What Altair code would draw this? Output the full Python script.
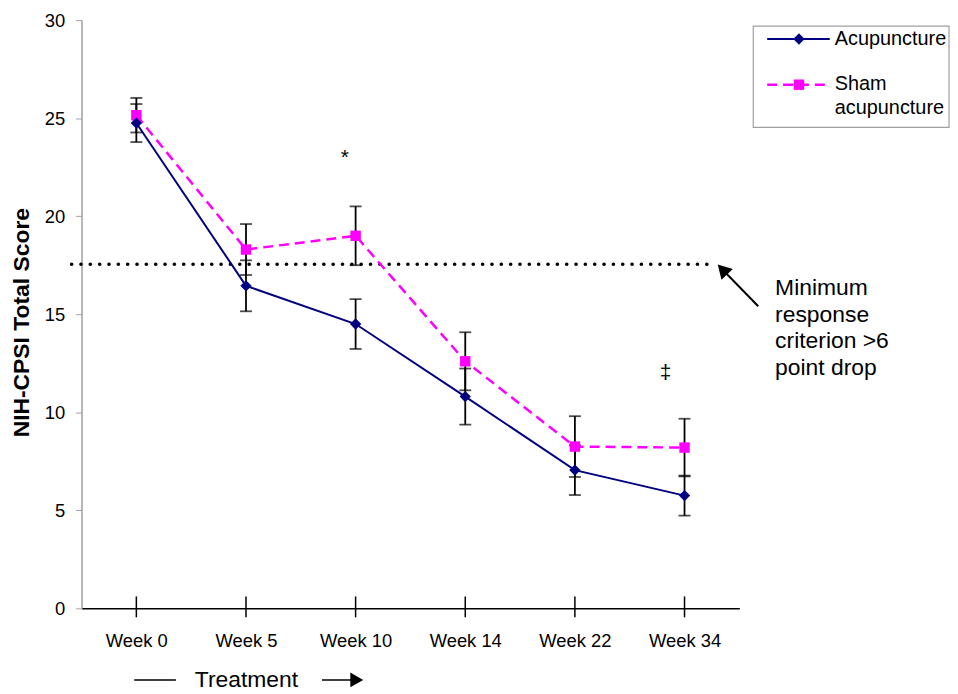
import altair as alt
import pandas as pd

# ---------------- data ----------------
weeks = ["Week 0", "Week 5", "Week 10", "Week 14", "Week 22", "Week 34"]
acup_mean = [24.75, 16.45, 14.5, 10.8, 7.05, 5.75]
acup_err = [0.97, 1.3, 1.27, 1.43, 1.27, 1.02]
sham_mean = [25.15, 18.3, 19.0, 12.6, 8.25, 8.2]
sham_err = [0.88, 1.3, 1.5, 1.48, 1.55, 1.47]
series_names = ["Acupuncture", "Sham acupuncture"]
criterion_value = [17.55]
sig_symbols = ["*", "\u2021"]
sig_weeks = ["Week 10", "Week 34"]
sig_values = [22.95, 12.0]
y_ticks = [0, 5, 10, 15, 20, 25, 30]
annotation_lines = ["Minimum", "response", "criterion >6", "point drop"]
x_title = "Treatment"
y_title = "NIH-CPSI Total Score"

FONT = "Liberation Sans"
NAVY = "#000080"
MAGENTA = "#FF00FF"

rows = []
for name, means, errs in [(series_names[0], acup_mean, acup_err),
                          (series_names[1], sham_mean, sham_err)]:
    for w, m, e in zip(weeks, means, errs):
        rows.append({"week": w, "series": name, "mean": m,
                     "lo": m - e, "hi": m + e})
df = pd.DataFrame(rows)
weeks_df = pd.DataFrame({"week": weeks})
crit_df = pd.DataFrame({"crit": criterion_value})
sig_df = pd.DataFrame({"sym": sig_symbols, "week": sig_weeks, "val": sig_values})
one = pd.DataFrame({"k": [0]})

yscale = alt.Scale(domain=[0, 30], nice=False, zero=True)
xscale = alt.Scale(type="point", padding=0.5)

X = alt.X("week:N", sort=weeks, scale=xscale,
          axis=alt.Axis(title=None, ticks=False, labelFontSize=18.5, labelPadding=23,
                        labelColor="black", domainColor="black", domainWidth=1.5,
                        labelAngle=0, grid=False))

base = alt.Chart(df)

# criterion dotted line
crit = alt.Chart(crit_df).mark_rule(
    color="black", strokeWidth=3.6, strokeCap="round", strokeDash=[0.1, 9.3]
).encode(
    y=alt.Y("crit:Q", scale=yscale,
            axis=alt.Axis(values=y_ticks, title=y_title, titleFontSize=23,
                          titleFontWeight="bold", titleColor="black",
                          titleAngle=270, titleX=-60, titleY=304,
                          titleBaseline="middle", titleAlign="center",
                          labelFontSize=18.5, labelColor="black", labelPadding=11,
                          tickSize=6, tickColor="#a0a0a0", domainColor="#a0a0a0",
                          domainWidth=1.5, grid=False)),
    x=alt.value(-10), x2=alt.value(634),
)

# error bars
err = base.mark_rule(color="black", strokeWidth=1.8).encode(
    x=X, y=alt.Y("lo:Q", scale=yscale), y2="hi:Q")
cap_lo = base.mark_tick(color="black", thickness=1.8, size=12).encode(
    x=X, y=alt.Y("lo:Q", scale=yscale))
cap_hi = base.mark_tick(color="black", thickness=1.8, size=12).encode(
    x=X, y=alt.Y("hi:Q", scale=yscale))

# lines and markers
line_a = base.transform_filter(alt.datum.series == series_names[0]).mark_line(
    color=NAVY, strokeWidth=2).encode(x=X, y=alt.Y("mean:Q", scale=yscale))
line_s = base.transform_filter(alt.datum.series == series_names[1]).mark_line(
    color=MAGENTA, strokeWidth=2.5, strokeDash=[10, 6]).encode(
    x=X, y=alt.Y("mean:Q", scale=yscale))
pt_a = base.transform_filter(alt.datum.series == series_names[0]).mark_point(
    shape="diamond", filled=True, color=NAVY, size=130, opacity=1).encode(
    x=X, y=alt.Y("mean:Q", scale=yscale))
pt_s = base.transform_filter(alt.datum.series == series_names[1]).mark_point(
    shape="square", filled=True, color=MAGENTA, size=110, opacity=1).encode(
    x=X, y=alt.Y("mean:Q", scale=yscale))

# x tick marks crossing the axis
xticks = alt.Chart(weeks_df).mark_rule(color="black", strokeWidth=1.5).encode(
    x=X, y=alt.value(580), y2=alt.value(601))

# significance symbols
sig = alt.Chart(sig_df).mark_text(fontSize=21, font=FONT, color="black", dx=-19).encode(
    x=X, y=alt.Y("val:Q", scale=yscale), text="sym:N")
sig = alt.Chart(sig_df).transform_calculate(
    off="datum.week == 'Week 10' ? -11 : -19").mark_text(
    fontSize=21, font=FONT, color="black").encode(
    x=X, y=alt.Y("val:Q", scale=yscale), text="sym:N",
    xOffset=alt.XOffset("off:Q", scale=None))

# criterion annotation text + arrow
ann_df = pd.DataFrame({"t": ["\n".join(annotation_lines)]})
ann = alt.Chart(ann_df).mark_text(
    fontSize=23, font=FONT, color="black", align="left", baseline="top",
    lineBreak="\n", lineHeight=26.7
).encode(x=alt.value(698), y=alt.value(259), text="t:N")
arrow_line = alt.Chart(one).mark_rule(color="black", strokeWidth=2).encode(
    x=alt.value(681), y=alt.value(288), x2=alt.value(645), y2=alt.value(251))
arrow_head = alt.Chart(one).mark_point(
    shape="triangle-up", filled=True, color="black", size=250, angle=316, opacity=1
).encode(x=alt.value(645), y=alt.value(251))

# legend box (manual, matching the reference)
leg_box = alt.Chart(one).mark_rect(fill="white", stroke="#a0a0a0", strokeWidth=1.2).encode(
    x=alt.value(676), x2=alt.value(873), y=alt.value(6), y2=alt.value(108))
leg_line_a = alt.Chart(one).mark_rule(color=NAVY, strokeWidth=2).encode(
    x=alt.value(690), x2=alt.value(753), y=alt.value(19))
leg_pt_a = alt.Chart(one).mark_point(shape="diamond", filled=True, color=NAVY,
                                     size=130, opacity=1).encode(
    x=alt.value(722), y=alt.value(19))
leg_line_s = alt.Chart(one).mark_rule(color=MAGENTA, strokeWidth=2.5,
                                      strokeDash=[10, 6]).encode(
    x=alt.value(690), x2=alt.value(753), y=alt.value(65))
leg_pt_s = alt.Chart(one).mark_point(shape="square", filled=True, color=MAGENTA,
                                     size=110, opacity=1).encode(
    x=alt.value(722), y=alt.value(65))
leg_df = pd.DataFrame({"name": series_names})
leg_txt_a = alt.Chart(leg_df).transform_filter(
    alt.datum.name == series_names[0]).mark_text(
    fontSize=20, font=FONT, color="black", align="left", baseline="middle").encode(
    x=alt.value(758), y=alt.value(19), text="name:N")
leg_txt_s = alt.Chart(leg_df).transform_filter(
    alt.datum.name == series_names[1]).mark_text(
    fontSize=20, font=FONT, color="black", align="left", baseline="top",
    lineBreak=" ", lineHeight=25).encode(
    x=alt.value(758), y=alt.value(54), text="name:N")

# Treatment label with line and arrow
tr_df = pd.DataFrame({"t": [x_title]})
tr_line = alt.Chart(one).mark_rule(color="black", strokeWidth=1.5).encode(
    x=alt.value(53), x2=alt.value(95), y=alt.value(664))
tr_text = alt.Chart(tr_df).mark_text(fontSize=23, font=FONT, color="black",
                                     align="center", baseline="middle").encode(
    x=alt.value(166), y=alt.value(664), text="t:N")
tr_arrow = alt.Chart(one).mark_rule(color="black", strokeWidth=1.5).encode(
    x=alt.value(242), x2=alt.value(276), y=alt.value(664))
tr_head = alt.Chart(one).mark_point(shape="triangle-right", filled=True, color="black",
                                    size=225, opacity=1).encode(
    x=alt.value(277), y=alt.value(664))

chart = alt.layer(
    crit, err, cap_lo, cap_hi, line_s, line_a, pt_s, pt_a, xticks, sig,
    ann, arrow_line, arrow_head,
    leg_box, leg_line_a, leg_pt_a, leg_line_s, leg_pt_s, leg_txt_a, leg_txt_s,
    tr_line, tr_text, tr_arrow, tr_head,
).resolve_scale(x="shared", y="shared").properties(
    width=662, height=592,
    autosize=alt.AutoSizeParams(type="none"),
    padding={"left": 74, "top": 10, "right": 212, "bottom": 84},
    background="white",
).configure(font=FONT).configure_view(stroke=None)

chart.save("out.html", embed_options={"renderer": "svg", "actions": False})
